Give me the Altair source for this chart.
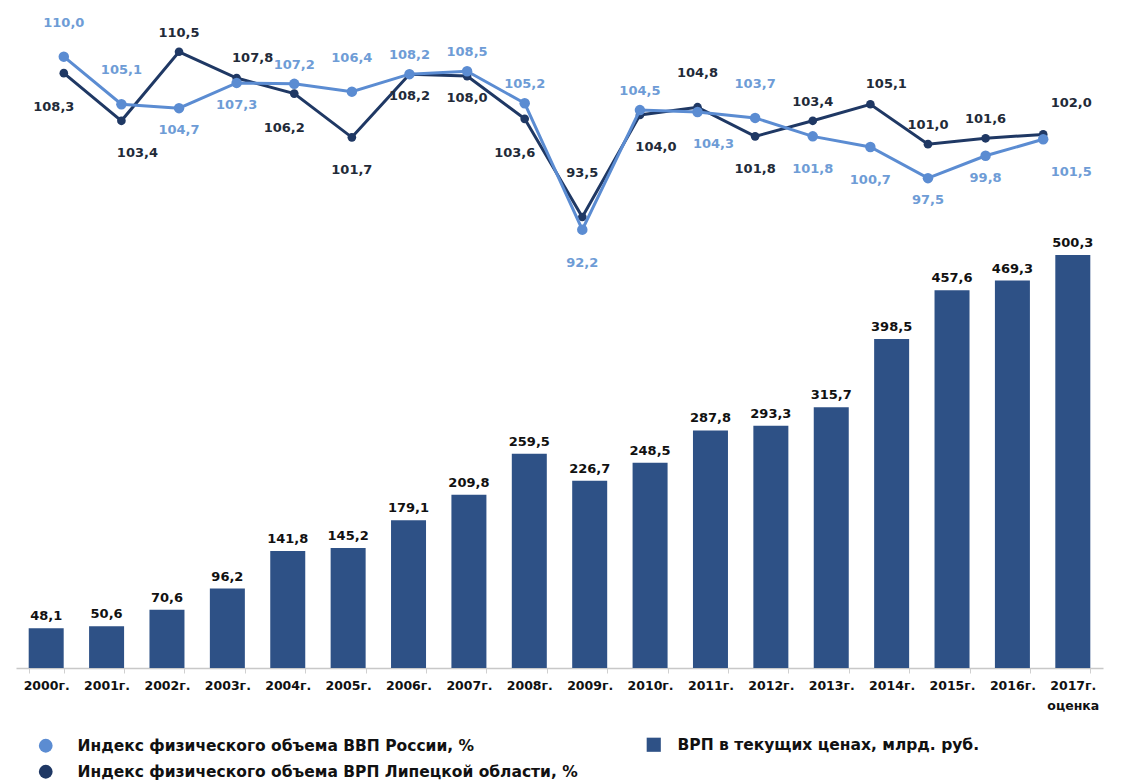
import altair as alt
import pandas as pd

years = ["2000г.", "2001г.", "2002г.", "2003г.", "2004г.", "2005г.", "2006г.", "2007г.", "2008г.",
         "2009г.", "2010г.", "2011г.", "2012г.", "2013г.", "2014г.", "2015г.", "2016г.", "2017г."]
grp = [48.1, 50.6, 70.6, 96.2, 141.8, 145.2, 179.1, 209.8, 259.5, 226.7, 248.5, 287.8, 293.3,
       315.7, 398.5, 457.6, 469.3, 500.3]
idx_russia = [110.0, 105.1, 104.7, 107.3, 107.2, 106.4, 108.2, 108.5, 105.2, 92.2, 104.5, 104.3,
              103.7, 101.8, 100.7, 97.5, 99.8, 101.5]
idx_lipetsk = [108.3, 103.4, 110.5, 107.8, 106.2, 101.7, 108.2, 108.0, 103.6, 93.5, 104.0, 104.8,
               101.8, 103.4, 105.1, 101.0, 101.6, 102.0]
# label placement hints (compass-like) for the index labels
place_russia = ["NN", "NN", "S", "S", "N", "NN", "N", "N", "N", "SS", "N", "SE", "NN", "SS", "SS",
                "S", "S", "SSE"]
place_lipetsk = ["SW", "SE", "N", "NE", "SW", "SS", "S", "S", "SW", "NNN", "SE", "NN", "SS", "N",
                 "NE", "N", "N", "NNE"]

name_ru = "Индекс физического объема ВВП России, %"
name_lip = "Индекс физического объема ВРП Липецкой области, %"
name_bar = "ВРП в текущих  ценах,  млрд. руб."

LIGHT = "#5B8CD2"
DARK = "#1F3864"
BAR = "#2E5186"
LIGHT_TXT = "#6E9CD6"
DARK_TXT = "#222A38"

offsets = {"N": (0, -19), "NN": (0, -34), "NNN": (0, -44), "S": (0, 22), "SS": (0, 33),
           "SW": (-10, 34), "SE": (16, 32), "NE": (16, -20), "NNE": (28, -31), "SSE": (28, 33)}

bars_df = pd.DataFrame({"year": years, "grp": grp, "s": name_bar})
lines_df = pd.concat([
    pd.DataFrame({"year": years, "v": idx_russia, "series": name_ru, "place": place_russia, "k": "ru"}),
    pd.DataFrame({"year": years, "v": idx_lipetsk, "series": name_lip, "place": place_lipetsk, "k": "lip"}),
], ignore_index=True)

W, H = 1087, 658
FONT = "DejaVu Sans"

xb = alt.X("year:N", sort=years, title=None,
           scale=alt.Scale(paddingInner=0.42, paddingOuter=0.21),
           axis=alt.Axis(labelExpr="datum.value == '2017г.' ? ['2017г.', 'оценка'] : datum.value",
                         labelAngle=0, labelFontSize=12.5, labelFontWeight="bold", labelColor="#111111",
                         labelFont=FONT, domainColor="#C8C8C8", domainWidth=1.5, tickColor="#D0D0D0",
                         tickSize=5, tickBand="extent", labelPadding=6, labelLineHeight=20))

yb = alt.Y("grp:Q", scale=alt.Scale(domain=[0, 797], nice=False, zero=True), axis=None)

base_bar = alt.Chart(bars_df)
bars = base_bar.mark_bar(size=35).encode(
    x=xb, y=yb,
    fill=alt.Fill("s:N", scale=alt.Scale(domain=[name_bar], range=[BAR]),
                  legend=alt.Legend(title=None, orient="none", legendX=630, legendY=727,
                                    symbolType="square", symbolSize=200, labelFontSize=15.5,
                                    labelFontWeight="bold", labelFont=FONT, labelColor="#111111",
                                    labelOffset=16, symbolStrokeWidth=0, labelLimit=0)))
bar_text = base_bar.mark_text(dy=-12, fontSize=13, fontWeight="bold", font=FONT, color="#111111").encode(
    x=alt.X("year:N", sort=years), y=yb,
    text=alt.Text("lbl:N")).transform_calculate(lbl="replace(format(datum.grp, '.1f'), '.', ',')")

bar_layer = alt.layer(bars, bar_text)

xl = alt.X("year:N", sort=years, scale=alt.Scale(type="point", range=[19, 1056]), axis=None)
yl = alt.Y("v:Q", scale=alt.Scale(domain=[47.1, 114.8], nice=False, zero=False), axis=None)
color = alt.Color("series:N", scale=alt.Scale(domain=[name_ru, name_lip], range=[LIGHT, DARK]),
                  legend=alt.Legend(title=None, orient="none", legendX=22, legendY=728,
                                    symbolType="circle", symbolSize=190, labelFontSize=15.5,
                                    labelFontWeight="bold", labelFont=FONT, labelColor="#111111",
                                    labelOffset=24, rowPadding=9, symbolStrokeWidth=0, labelLimit=0))

base_line = alt.Chart(lines_df)
layers = []
for k, sw, ps in [("lip", 3, 75), ("ru", 3, 110)]:
    b = base_line.transform_filter(f"datum.k == '{k}'")
    layers.append(b.mark_line(strokeWidth=sw).encode(x=xl, y=yl, color=color))
    layers.append(b.mark_circle(size=ps, opacity=1).encode(x=xl, y=yl, color=color))

used = sorted(set(place_russia) | set(place_lipetsk))
for p in used:
    dx, dy = offsets[p]
    t = base_line.transform_filter(f"datum.place == '{p}'").transform_calculate(
        lbl="replace(format(datum.v, '.1f'), '.', ',')"
    ).mark_text(dx=dx, dy=dy, fontSize=13, fontWeight="bold", font=FONT).encode(
        x=xl, y=yl, text="lbl:N",
        color=alt.condition("datum.k == 'ru'", alt.value(LIGHT_TXT), alt.value(DARK_TXT)))
    layers.append(t)

line_layer = alt.layer(*layers)

chart = alt.layer(bar_layer, line_layer).resolve_scale(
    x="independent", y="independent"
).properties(
    width=W, height=H, padding={"left": 8, "top": 2, "right": 5, "bottom": 5}
).configure(background="white", view=alt.ViewConfig(stroke=None))

chart.save("out.html", embed_options={"renderer": "svg", "actions": False})
